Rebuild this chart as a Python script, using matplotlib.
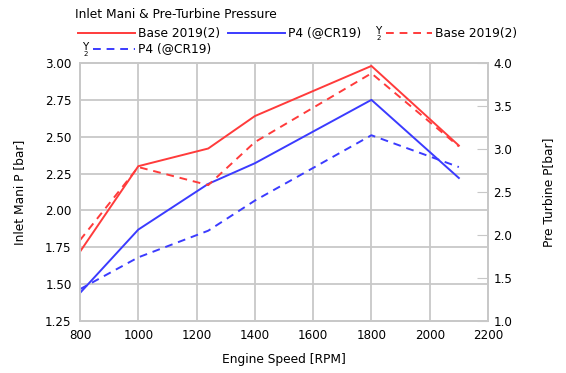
import matplotlib.pyplot as plt
from matplotlib.lines import Line2D

rpm = [800, 1000, 1240, 1400, 1800, 2100]
inlet_base = [1.72, 2.30, 2.42, 2.64, 2.98, 2.44]
inlet_p4 = [1.44, 1.87, 2.18, 2.32, 2.75, 2.22]
turb_base = [1.94, 2.79, 2.58, 3.08, 3.88, 3.03]
turb_p4 = [1.37, 1.74, 2.05, 2.40, 3.16, 2.79]

RED = '#ff3b3b'
BLUE = '#3b3bff'
GRID = '#c8c8c8'
plt.rcParams['font.family'] = ['DejaVu Sans']
plt.rcParams['font.size'] = 8.8

W, H = 566, 373
fig = plt.figure(figsize=(W / 100, H / 100), dpi=100)
ax = fig.add_axes([80 / W, 1 - 321 / H, 408 / W, 258 / H])
ax2 = ax.twinx()

ax.plot(rpm, inlet_base, color=RED, lw=1.4)
ax.plot(rpm, inlet_p4, color=BLUE, lw=1.4)
ax2.plot(rpm, turb_base, color=RED, lw=1.4, ls=(0, (4, 3)))
ax2.plot(rpm, turb_p4, color=BLUE, lw=1.4, ls=(0, (4, 3)))

ax.set_xlim(800, 2200)
ax.set_ylim(1.25, 3.0)
ax2.set_ylim(1.0, 4.0)
ax.set_xticks(range(800, 2201, 200))
ax.set_yticks([1.25 + 0.25 * i for i in range(8)])
ax.set_yticklabels([f'{1.25 + 0.25 * i:.2f}' for i in range(8)])
ax2.set_yticks([1.0 + 0.5 * i for i in range(7)])
ax2.set_yticklabels([f'{1.0 + 0.5 * i:.1f}' for i in range(7)])

ax.grid(True, color=GRID, lw=1.3)
ax.set_axisbelow(True)
ax.tick_params(axis='both', length=0, pad=6, labelsize=8.6)
ax2.tick_params(axis='y', direction='in', length=8, color=GRID, pad=4, labelsize=8.6)
for a in (ax, ax2):
    for s in a.spines.values():
        s.set_color(GRID)
        s.set_linewidth(1.3)

ax.set_xlabel('Engine Speed [RPM]', labelpad=8)
ax.set_ylabel('Inlet Mani P [bar]', labelpad=14)
ax2.set_ylabel('Pre Turbine P[bar]', labelpad=21)

fig.text(75 / W, 1 - 14 / H, 'Inlet Mani & Pre-Turbine Pressure', ha='left', va='center')

# legend drawn by hand to mimic the original layout
entries = [
    (78, 135, 33, RED, '-', 'Base 2019(2)', False),
    (228, 285, 33, BLUE, '-', 'P4 (@CR19)', False),
    (386, 432, 33, RED, (0, (4, 3)), 'Base 2019(2)', True),
    (93, 135, 49, BLUE, (0, (4, 3)), 'P4 (@CR19)', True),
]
for x0, x1, y, c, ls, lab, right in entries:
    fig.add_artist(Line2D([x0 / W, x1 / W], [1 - y / H, 1 - y / H], color=c, lw=1.4, ls=ls))
    fig.text((x1 + 3) / W, 1 - y / H, lab, ha='left', va='center')
    if right:
        fig.text((x0 - 8) / W, 1 - (y - 2) / H, 'Y', ha='center', va='center', fontsize=7.5)
        fig.text((x0 - 7) / W, 1 - (y + 5) / H, '2', ha='center', va='center', fontsize=5)

fig.savefig('out.png', dpi=100)
